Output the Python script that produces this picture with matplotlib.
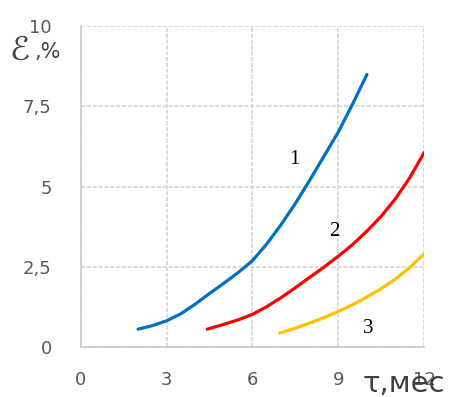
import matplotlib
matplotlib.use("Agg")
import matplotlib.pyplot as plt

# curve 1 (blue)
t1 = [2.0, 2.5, 3.0, 3.5, 4.0, 4.5, 5.0, 5.5, 6.0, 6.5, 7.0, 7.5, 8.0, 8.5, 9.0, 9.5, 10.0]
e1 = [0.57, 0.68, 0.83, 1.05, 1.35, 1.68, 2.0, 2.33, 2.7, 3.22, 3.82, 4.48, 5.2, 5.95, 6.7, 7.57, 8.49]
# curve 2 (red)
t2 = [4.42, 5.0, 5.5, 6.0, 6.5, 7.0, 7.5, 8.0, 8.5, 9.0, 9.5, 10.0, 10.5, 11.0, 11.5, 12.0]
e2 = [0.57, 0.72, 0.86, 1.03, 1.27, 1.55, 1.86, 2.18, 2.5, 2.84, 3.2, 3.62, 4.08, 4.63, 5.28, 6.06]
# curve 3 (yellow)
t3 = [6.96, 7.5, 8.0, 8.5, 9.0, 9.5, 10.0, 10.5, 11.0, 11.5, 12.0]
e3 = [0.45, 0.6, 0.76, 0.93, 1.12, 1.33, 1.57, 1.83, 2.13, 2.49, 2.91]

xticks = [0, 3, 6, 9, 12]
yticks = [0, 2.5, 5, 7.5, 10]
ylabels = ['0', '2,5', '5', '7,5', '10']

fig = plt.figure(figsize=(4.62, 3.97), dpi=100)
ax = fig.add_axes([0.175, 0.1247, 0.743, 0.81])

ax.plot(t1, e1, color='#0070C0', lw=2.3, solid_capstyle='round')
ax.plot(t2, e2, color='#FF0000', lw=2.3, solid_capstyle='round')
ax.plot(t3, e3, color='#FFC000', lw=2.3, solid_capstyle='round')

# curve numbers
ax.text(7.48, 5.84, '1', fontsize=15, family='Liberation Serif', ha='center', va='center')
ax.text(8.86, 3.61, '2', fontsize=15, family='Liberation Serif', ha='center', va='center')
ax.text(10.05, 0.6, '3', fontsize=15, family='Liberation Serif', ha='center', va='center')

ax.set_xlim(0, 12)
ax.set_ylim(0, 10)
ax.set_xticks(xticks)
ax.set_yticks(yticks)
ax.set_yticklabels(ylabels)
ax.grid(True, color='#d4d4d4', lw=1.2, linestyle=(0, (2.5, 1)))
for s in ax.spines.values():
    s.set_visible(False)
ax.spines['left'].set_visible(True)
ax.spines['bottom'].set_visible(True)
ax.spines['left'].set_color('#cfcfcf')
ax.spines['bottom'].set_color('#cfcfcf')
ax.spines['left'].set_linewidth(1.3)
ax.spines['bottom'].set_linewidth(1.3)
ax.tick_params(length=0, colors='#595959', labelsize=13)
ax.tick_params(axis='x', pad=17)
ax.tick_params(axis='y', pad=21)

fig.text(0.02, 0.873, 'ℰ', fontsize=24, color='#404040', ha='left', va='center')
fig.text(0.075, 0.868, ',%', fontsize=15, color='#404040', ha='left', va='center')
fig.text(0.784, 0.032, 'τ,мес', fontsize=21, color='#404040', ha='left', va='center')

fig.savefig('out.png', dpi=100)
